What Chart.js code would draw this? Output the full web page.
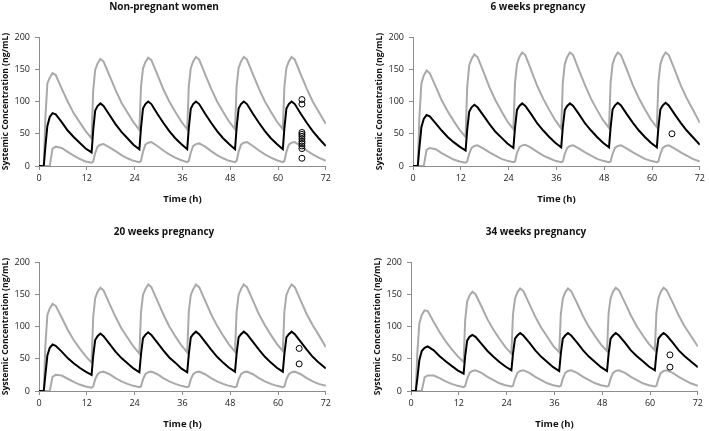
<!DOCTYPE html>
<html>
<head>
<meta charset="utf-8">
<script src="https://cdn.jsdelivr.net/npm/chart.js@4.4.0/dist/chart.umd.min.js"></script>
<style>
html, body { margin: 0; padding: 0; background: #fff; overflow: hidden; width: 709px; height: 431px; }
.panel { position: absolute; width: 334px; height: 215px; }
</style>
</head>
<body>
<div class="panel" style="left:0px;top:0px"><canvas id="gNoPreg" width="334" height="215"></canvas></div>
<div class="panel" style="left:374px;top:0px"><canvas id="g6sem" width="334" height="215"></canvas></div>
<div class="panel" style="left:0px;top:225px"><canvas id="g20sem" width="334" height="215"></canvas></div>
<div class="panel" style="left:372px;top:225px"><canvas id="g34sem" width="334" height="215"></canvas></div>
<script>
// Tiempo (h) comun a todas las curvas
const tiempo = [0,
    1.2, 1.6, 2.1, 2.7, 3.4, 4.2, 5.7, 7.2, 8.7, 10.2, 11.7,
    13.2, 13.6, 14.1, 14.7, 15.4, 16.2, 17.7, 19.2, 20.7, 22.2, 23.7,
    25.2, 25.6, 26.1, 26.7, 27.4, 28.2, 29.7, 31.2, 32.7, 34.2, 35.7,
    37.2, 37.6, 38.1, 38.7, 39.4, 40.2, 41.7, 43.2, 44.7, 46.2, 47.7,
    49.2, 49.6, 50.1, 50.7, 51.4, 52.2, 53.7, 55.2, 56.7, 58.2, 59.7,
    61.2, 61.6, 62.1, 62.7, 63.4, 64.2, 65.7, 67.2, 68.7, 70.2, 72];

const xTicks = [0, 12, 24, 36, 48, 60, 72];
const yTicks = [0, 50, 100, 150, 200];

// Non-pregnant women
const npMediana = [0,
    0, 30, 62, 76, 82, 80, 68, 55, 45, 36, 27,
    21, 55, 86, 93, 97, 93, 79, 65, 53, 43, 33,
    26, 59, 89, 96, 100, 96, 81, 67, 54, 43, 34,
    26, 59, 89, 96, 100, 96, 81, 67, 54, 43, 34,
    26, 59, 89, 96, 100, 96, 81, 67, 54, 43, 34,
    26, 59, 89, 96, 100, 96, 81, 67, 54, 43, 31];
const npP95 = [0,
    0, 75, 128, 137, 144, 141, 120, 100, 82, 68, 54,
    43, 117, 149, 159, 166, 162, 140, 118, 98, 83, 68,
    56, 123, 151, 161, 168, 164, 142, 119, 100, 84, 69,
    57, 124, 152, 162, 169, 165, 142, 120, 100, 84, 69,
    57, 124, 152, 162, 169, 165, 142, 120, 100, 84, 69,
    57, 124, 152, 162, 169, 165, 142, 120, 100, 84, 65];
const npP5 = [0,
    0, 0, 0, 0, 27, 30, 28, 22, 16, 11, 7,
    5, 7, 20, 30, 33, 34, 29, 23, 17, 12, 8,
    6, 8, 22, 33, 36, 37, 31, 24, 18, 13, 9,
    6, 8, 21, 31, 34, 35, 30, 23, 17, 12, 8,
    6, 8, 22, 33, 36, 37, 31, 24, 18, 13, 9,
    6, 8, 22, 33, 36, 37, 31, 24, 18, 13, 8];
const npObsT = [66, 66, 66, 66, 66, 66, 66, 66, 66, 66, 66];
const npObsC = [103, 96, 52, 49, 46, 42, 38, 35, 31, 27, 12];

// 6 weeks pregnancy
const s6Mediana = [0,
    0, 28, 60, 73, 79, 77, 66, 55, 45, 37, 30,
    24, 56, 84, 91, 95, 91, 78, 65, 53, 44, 35,
    28, 59, 87, 93, 97, 93, 80, 66, 55, 45, 36,
    29, 60, 87, 93, 97, 93, 80, 66, 55, 45, 36,
    29, 60, 88, 94, 98, 94, 80, 67, 55, 45, 36,
    29, 60, 88, 94, 98, 94, 80, 67, 55, 45, 33];
const s6P95 = [0,
    0, 75, 128, 140, 148, 144, 123, 102, 85, 70, 56,
    45, 122, 156, 166, 173, 169, 146, 122, 102, 85, 69,
    57, 128, 158, 169, 176, 172, 148, 124, 104, 87, 71,
    58, 129, 158, 169, 176, 172, 148, 125, 104, 87, 71,
    59, 129, 158, 169, 176, 172, 149, 125, 105, 88, 72,
    60, 130, 158, 169, 176, 172, 149, 125, 105, 88, 67];
const s6P5 = [0,
    0, 0, 0, 0, 25, 28, 26, 20, 15, 10, 7,
    5, 7, 19, 28, 31, 32, 27, 21, 16, 11, 8,
    6, 7, 20, 29, 32, 33, 28, 22, 16, 12, 8,
    6, 7, 19, 28, 31, 32, 27, 21, 16, 11, 8,
    6, 7, 19, 28, 31, 32, 27, 21, 16, 11, 8,
    6, 7, 19, 28, 31, 32, 27, 21, 16, 11, 7];
const s6ObsT = [65];
const s6ObsC = [50];

// 20 weeks pregnancy
const s20Mediana = [0,
    0, 25, 55, 67, 72, 70, 61, 51, 43, 36, 30,
    25, 54, 79, 85, 89, 85, 73, 61, 51, 43, 35,
    29, 57, 82, 87, 91, 87, 75, 63, 52, 44, 35,
    29, 57, 83, 88, 92, 88, 76, 64, 53, 44, 36,
    30, 58, 83, 88, 92, 88, 76, 64, 53, 44, 36,
    30, 58, 83, 88, 92, 88, 76, 64, 53, 44, 35];
const s20P95 = [0,
    0, 70, 118, 128, 135, 132, 114, 95, 79, 66, 54,
    44, 114, 144, 154, 160, 156, 135, 115, 97, 83, 69,
    58, 122, 149, 158, 165, 161, 140, 119, 100, 85, 71,
    60, 123, 149, 158, 165, 161, 140, 119, 101, 86, 72,
    61, 123, 149, 158, 165, 161, 140, 119, 102, 87, 73,
    62, 124, 149, 158, 165, 161, 140, 119, 102, 87, 68];
const s20P5 = [0,
    0, 0, 0, 0, 22, 25, 24, 19, 14, 10, 7,
    5, 7, 18, 26, 29, 30, 26, 20, 15, 11, 8,
    6, 7, 18, 26, 29, 30, 26, 20, 15, 11, 8,
    6, 7, 18, 26, 29, 30, 26, 20, 15, 11, 8,
    6, 7, 18, 26, 29, 30, 26, 20, 15, 11, 8,
    6, 7, 18, 26, 29, 30, 26, 20, 15, 11, 8];
const s20ObsT = [65.3, 65.3];
const s20ObsC = [66, 42];

// 34 weeks pregnancy
const s34Mediana = [0,
    0, 20, 48, 62, 67, 69, 63, 54, 46, 39, 32,
    27, 54, 78, 84, 87, 84, 73, 62, 53, 45, 38,
    32, 58, 81, 86, 90, 86, 75, 63, 53, 45, 37,
    31, 58, 81, 86, 90, 86, 75, 63, 53, 45, 37,
    31, 58, 81, 86, 90, 86, 75, 63, 54, 46, 38,
    32, 58, 81, 86, 90, 86, 75, 63, 54, 46, 37];
const s34P95 = [0,
    0, 60, 105, 118, 125, 124, 107, 91, 77, 65, 54,
    45, 110, 139, 148, 154, 150, 131, 111, 95, 81, 68,
    58, 119, 143, 153, 159, 155, 135, 115, 98, 84, 70,
    60, 119, 143, 153, 159, 155, 136, 116, 99, 85, 72,
    62, 121, 144, 154, 160, 156, 137, 117, 100, 86, 73,
    63, 121, 144, 154, 160, 156, 137, 117, 100, 86, 69];
const s34P5 = [0,
    0, 0, 0, 0, 21, 24, 24, 20, 15, 11, 8,
    6, 8, 19, 28, 31, 32, 28, 22, 17, 12, 9,
    7, 8, 19, 28, 31, 32, 28, 22, 17, 12, 9,
    7, 8, 19, 28, 31, 32, 28, 22, 17, 12, 9,
    7, 8, 19, 28, 31, 32, 28, 22, 17, 12, 9,
    7, 8, 19, 28, 31, 32, 28, 22, 17, 12, 8];
const s34ObsT = [65, 65];
const s34ObsC = [56, 37];

const fuente = "'Open Sans', 'Liberation Sans', sans-serif";
const colorEje = '#8c8c8c';
const colorGris = '#a9a9a9';

const aPuntos = (xs, ys) => xs.map((x, i) => ({ x: x, y: ys[i] }));

const generarPanel = (idCanvas, titulo, mediana, p95, p5, obsT, obsC) => {
    const data = {
        datasets: [
            {
                type: 'scatter',
                label: 'Observed',
                data: aPuntos(obsT, obsC),
                pointRadius: 3,
                pointBorderWidth: 1,
                pointBorderColor: '#000',
                pointBackgroundColor: 'rgba(255,255,255,0)',
                showLine: false,
            },
            {
                label: 'Median',
                data: aPuntos(tiempo, mediana),
                borderWidth: 2,
                borderColor: '#000',
                pointRadius: 0,
            },
            {
                label: '95th percentile',
                data: aPuntos(tiempo, p95),
                borderWidth: 2,
                borderColor: colorGris,
                pointRadius: 0,
            },
            {
                label: '5th percentile',
                data: aPuntos(tiempo, p5),
                borderWidth: 2,
                borderColor: colorGris,
                pointRadius: 0,
            }
        ]
    };

    const config = {
        type: 'line',
        data: data,
        options: {
            responsive: false,
            animation: false,
            layout: { padding: { left: 0, right: 6, top: 0, bottom: 0 } },
            plugins: {
                legend: { display: false },
                tooltip: { enabled: false },
                title: {
                    display: true,
                    text: titulo,
                    color: '#111',
                    font: { family: fuente, size: 10, weight: 'bold' },
                    padding: { top: 1, bottom: 24 }
                }
            },
            scales: {
                x: {
                    type: 'linear',
                    min: 0,
                    max: 72,
                    afterBuildTicks: (eje) => { eje.ticks = xTicks.map(v => ({ value: v })); },
                    afterFit: (eje) => { eje.height = 49; },
                    ticks: { color: '#222', font: { family: fuente, size: 9 }, padding: 3, maxRotation: 0 },
                    grid: { display: true, drawOnChartArea: false, drawTicks: true, tickLength: 4, color: colorEje },
                    border: { display: true, color: colorEje, width: 1 },
                    title: {
                        display: true,
                        text: 'Time (h)',
                        color: '#111',
                        font: { family: fuente, size: 9.5, weight: 'bold' },
                        padding: { top: 6, bottom: 10 }
                    }
                },
                y: {
                    min: 0,
                    max: 200,
                    afterBuildTicks: (eje) => { eje.ticks = yTicks.map(v => ({ value: v })); },
                    afterFit: (eje) => { eje.width = 39; },
                    ticks: { color: '#222', font: { family: fuente, size: 9 }, padding: 5 },
                    grid: { display: true, drawOnChartArea: false, drawTicks: true, tickLength: 4, color: colorEje },
                    border: { display: true, color: colorEje, width: 1 },
                    title: {
                        display: true,
                        text: 'Systemic Concentration (ng/mL)',
                        color: '#111',
                        font: { family: fuente, size: 8.6, weight: 'bold' },
                        padding: { top: 0, bottom: 2 }
                    }
                }
            }
        }
    };

    return new Chart(document.getElementById(idCanvas), config);
};

generarPanel('gNoPreg', 'Non-pregnant women', npMediana, npP95, npP5, npObsT, npObsC);
generarPanel('g6sem', '6 weeks pregnancy', s6Mediana, s6P95, s6P5, s6ObsT, s6ObsC);
generarPanel('g20sem', '20 weeks pregnancy', s20Mediana, s20P95, s20P5, s20ObsT, s20ObsC);
generarPanel('g34sem', '34 weeks pregnancy', s34Mediana, s34P95, s34P5, s34ObsT, s34ObsC);
</script>
</body>
</html>
